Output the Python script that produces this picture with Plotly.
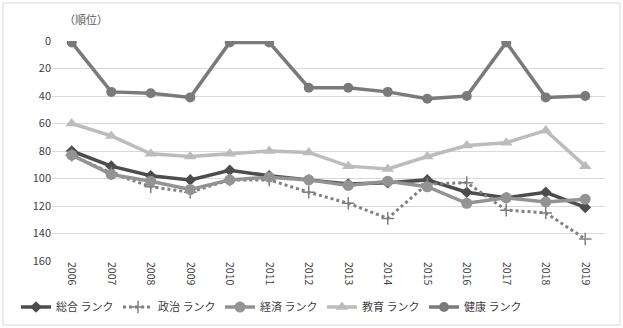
import plotly.graph_objects as go

years = list(range(2006, 2020))
sogo = [80, 91, 98, 101, 94, 98, 101, 104, 103, 101, 110, 114, 110, 121]
seiji = [83, 96, 106, 110, 101, 101, 110, 118, 129, 104, 103, 123, 125, 144]
keizai = [83, 97, 102, 108, 101, 99, 101, 105, 102, 106, 118, 114, 117, 115]
kyoiku = [60, 69, 82, 84, 82, 80, 81, 91, 93, 84, 76, 74, 65, 91]
kenko = [1, 37, 38, 41, 1, 1, 34, 34, 37, 42, 40, 1, 41, 40]
names = ["総合 ランク", "政治 ランク", "経済 ランク", "教育 ランク", "健康 ランク"]

W, H = 623, 328
L, R, T, B = 52, 18, 41, 67

fig = go.Figure()
fig.add_trace(go.Scatter(x=years, y=sogo, name=names[0], mode="lines+markers",
                         line=dict(color="#4d4d4d", width=3.5),
                         marker=dict(symbol="diamond", size=9, color="#4d4d4d")))
fig.add_trace(go.Scatter(x=years, y=seiji, name=names[1], mode="lines+markers",
                         line=dict(color="#808080", width=3, dash="dot"),
                         marker=dict(symbol="cross-thin", size=9, color="#808080",
                                     line=dict(color="#808080", width=1.5))))
fig.add_trace(go.Scatter(x=years, y=keizai, name=names[2], mode="lines+markers",
                         line=dict(color="#939393", width=3.5),
                         marker=dict(symbol="circle", size=11, color="#939393")))
fig.add_trace(go.Scatter(x=years, y=kyoiku, name=names[3], mode="lines+markers",
                         line=dict(color="#bcbcbc", width=3.5),
                         marker=dict(symbol="triangle-up", size=11, color="#bcbcbc")))
fig.add_trace(go.Scatter(x=years, y=kenko, name=names[4], mode="lines+markers",
                         line=dict(color="#7a7a7a", width=3.5),
                         marker=dict(symbol="circle", size=10, color="#7a7a7a")))

pw = W - L - R
ph = H - T - B
fig.add_shape(type="rect", xref="paper", yref="paper",
              x0=(3 - L) / pw, x1=(W - 3 - L) / pw,
              y0=-(H - 3 - T - ph) / ph, y1=1 + (T - 3) / ph,
              line=dict(color="#d9d9d9", width=1), fillcolor="rgba(0,0,0,0)", layer="below")

fig.add_annotation(text="（順位）", xref="paper", yref="paper",
                   x=(62 - L) / pw, y=1 + (T - 19) / ph, xanchor="left", yanchor="middle",
                   showarrow=False, font=dict(size=11, color="#595959"))

fig.update_layout(
    width=W, height=H,
    margin=dict(l=L, r=R, t=T, b=B, autoexpand=False),
    paper_bgcolor="white", plot_bgcolor="white",
    font=dict(family="Noto Sans CJK JP", color="#595959", size=11),
    showlegend=True,
    legend=dict(orientation="h", xref="container", yref="container",
                x=0.435, xanchor="center", y=(H - 307) / H, yanchor="middle",
                font=dict(size=11, color="#404040"), itemwidth=30,
                entrywidth=57, tracegroupgap=0),
    xaxis=dict(range=[2005.5, 2019.5], tickmode="array", tickvals=years,
               ticktext=[str(y) for y in years], tickangle=90, showgrid=False,
               zeroline=False, showline=False, ticks="", automargin=False,
               tickfont=dict(size=10.5, color="#404040")),
    yaxis=dict(range=[160, 0], tickvals=list(range(0, 161, 20)), showgrid=True,
               gridcolor="#d9d9d9", gridwidth=1, zeroline=False, showline=False,
               ticks="", automargin=False, tickfont=dict(size=11, color="#404040")),
)

fig.write_html("out.html")
